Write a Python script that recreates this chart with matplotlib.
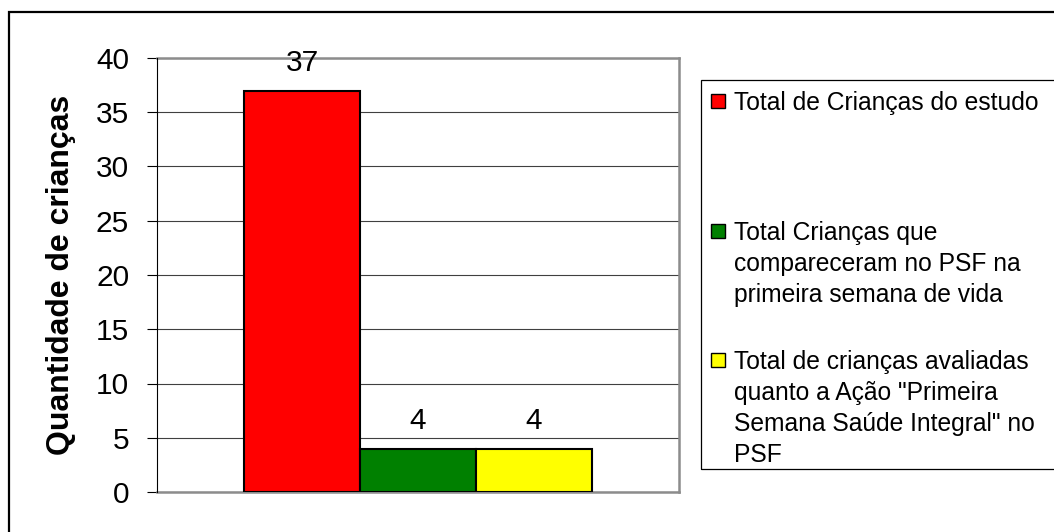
import matplotlib
matplotlib.use("Agg")
import matplotlib.pyplot as plt
from matplotlib.patches import Rectangle

# Données
categories = ["Total de Crianças do estudo",
              "Total Crianças que\ncompareceram no PSF na\nprimeira semana de vida",
              "Total de crianças avaliadas\nquanto a Ação \"Primeira\nSemana Saúde Integral\" no\nPSF"]
valeurs = [37, 4, 4]
couleurs = ["#ff0000", "#008000", "#ffff00"]
yticks = [0, 5, 10, 15, 20, 25, 30, 35, 40]
ylabel = "Quantidade de crianças"

plt.rcParams["font.family"] = ["Liberation Sans", "DejaVu Sans"]

W, H = 1054, 532
fig = plt.figure(figsize=(W / 100, H / 100), dpi=100)


def fx(px):
    return px / W


def fy(py):
    return 1 - py / H


# Cadre extérieur (déborde à droite et en bas)
fig.patches.append(Rectangle((fx(9), fy(H + 20)), fx(W + 20), fy(12) - fy(H + 20),
                             transform=fig.transFigure, fill=False,
                             edgecolor="black", linewidth=1.6))

# --- Zone de tracé ---
ax = fig.add_axes([fx(157), fy(492), fx(679) - fx(157), fy(58) - fy(492)])
x = range(len(valeurs))
ax.bar(x, valeurs, width=1.0, color=couleurs, edgecolor="black", linewidth=1.5, zorder=3)
for xi, v in zip(x, valeurs):
    ax.annotate(str(v), (xi, v), xytext=(0, 10), textcoords="offset points",
                ha="center", va="bottom", fontsize=21.5, zorder=4)

ax.set_xlim(-1.25, 3.25)
ax.set_ylim(0, 40)
ax.set_yticks(yticks)
ax.set_xticks([])
ax.tick_params(axis="y", labelsize=21.5, length=7, width=0.8, direction="out", pad=13)
ax.yaxis.grid(True, color="#404040", linewidth=0.8, zorder=0)
ax.set_axisbelow(True)

for cote in ["top", "right", "bottom"]:
    ax.spines[cote].set_color("#8c8c8c")
    ax.spines[cote].set_linewidth(1.8)
ax.spines["left"].set_color("black")
ax.spines["left"].set_linewidth(0.8)
ax.spines["left"].set_zorder(5)

ax.set_ylabel(ylabel, fontsize=23, fontweight="bold")
ax.yaxis.set_label_coords((76 - 157) / (679 - 157), 0.5)

# --- Légende (dessinée à la main, style Excel) ---
fig.patches.append(Rectangle((fx(701), fy(469)), fx(W + 20) - fx(701), fy(80) - fy(469),
                             transform=fig.transFigure, fill=False,
                             edgecolor="black", linewidth=0.9))
centres_y = [101, 231, 360]  # centre de la première ligne de chaque entrée
for lab, c, yc in zip(categories, couleurs, centres_y):
    fig.patches.append(Rectangle((fx(711), fy(yc + 7)), fx(14), fy(0) - fy(14),
                                 transform=fig.transFigure, facecolor=c,
                                 edgecolor="black", linewidth=1.0))
    fig.text(fx(734), fy(yc - 10), lab, ha="left", va="top", fontsize=17.7,
             linespacing=1.37)

fig.savefig("out.png", dpi=100)
